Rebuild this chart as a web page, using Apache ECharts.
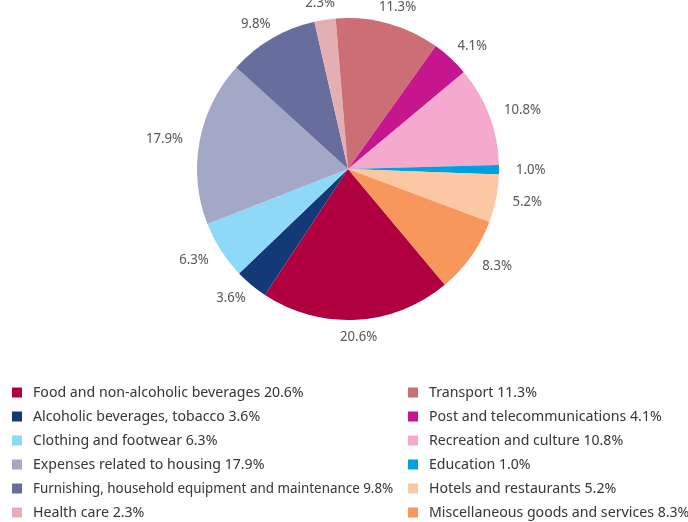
<!DOCTYPE html>
<html><head><meta charset="utf-8">
<script src="https://cdn.jsdelivr.net/npm/echarts@6/dist/echarts.min.js"></script>
<style>html,body{margin:0;padding:0;background:#fff}#c{width:688px;height:522px}</style>
</head><body><div id="c"></div>
<script>
var categories = [
  "Food and non-alcoholic beverages",
  "Alcoholic beverages, tobacco",
  "Clothing and footwear",
  "Expenses related to housing",
  "Furnishing, household equipment and maintenance",
  "Health care",
  "Transport",
  "Post and telecommunications",
  "Recreation and culture",
  "Education",
  "Hotels and restaurants",
  "Miscellaneous goods and services"
];
var shares = [20.6, 3.6, 6.3, 17.9, 9.8, 2.3, 11.3, 4.1, 10.8, 1.0, 5.2, 8.3];
var colors = ["#B0003F", "#133A76", "#8FD9F8", "#A4A8C7", "#676E9E", "#E4AFB2",
              "#CC6E75", "#C5168E", "#F5A9CE", "#00A0E0", "#FBC8A3", "#F7975B"];

var FONT = '"Noto Sans Display", "Noto Sans", sans-serif';
var data = categories.map(function (n, i) {
  return { name: n, value: shares[i], itemStyle: { color: colors[i] } };
});
function legendText(name) {
  var i = categories.indexOf(name);
  return name + ' ' + shares[i].toFixed(1) + '%';
}
function makeLegend(names, left) {
  return {
    data: names.map(function (n) {
      // very long entries are set slightly tighter so they stop before the next column
      return legendText(n).length > 45 ? { name: n, textStyle: { fontSize: 14.2 } } : { name: n };
    }),
    orient: 'vertical',
    left: left,
    top: 385,
    padding: 0,
    icon: 'rect',
    itemWidth: 10,
    itemHeight: 10,
    itemGap: 9,
    selectedMode: false,
    formatter: legendText,
    textStyle: { fontFamily: FONT, fontSize: 15, color: '#3a3a3a', lineHeight: 15, padding: [0, 0, 0, 6] }
  };
}
var chart = echarts.init(document.getElementById('c'), null, { renderer: 'canvas' });
chart.setOption({
  animation: false,
  legend: [makeLegend(categories.slice(0, 6), 12), makeLegend(categories.slice(6), 408)],
  series: [{
    type: 'pie',
    center: [348, 169],
    radius: 151,
    startAngle: -50.1,
    clockwise: true,
    avoidLabelOverlap: false,
    silent: true,
    itemStyle: { borderWidth: 0 },
    label: {
      show: true,
      position: 'outside',
      fontFamily: FONT,
      fontSize: 14,
      color: '#5a5a5a',
      formatter: function (p) { return p.value.toFixed(1) + '%'; }
    },
    labelLine: { show: true, length: 17, length2: 0, lineStyle: { opacity: 0, width: 0 } },
    labelLayout: function (params) {
      var pts = params.labelLinePoints;
      if (!pts) return {};
      var dx = pts[1][0] - pts[0][0], dy = pts[1][1] - pts[0][1];
      var len = Math.sqrt(dx * dx + dy * dy) || 1;
      var ux = dx / len;
      var w = params.labelRect.width;
      return {
        x: pts[1][0] + ux * w / 2,
        y: pts[1][1],
        align: 'center',
        verticalAlign: 'middle'
      };
    },
    data: data
  }]
});
</script></body></html>
